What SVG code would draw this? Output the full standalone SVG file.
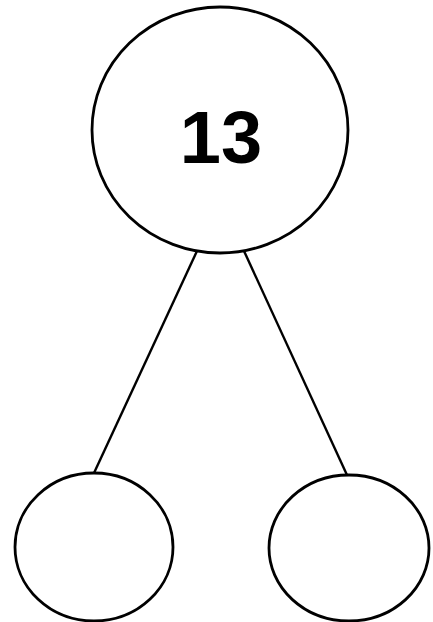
<svg xmlns="http://www.w3.org/2000/svg" width="433" height="622" viewBox="0 0 433 622">
<style>
.n{fill:#fff;stroke:#000;stroke-width:2.8}
.c{stroke:#000;stroke-width:2.4;fill:none}
.t{font-family:"Liberation Sans",Arial,sans-serif;font-weight:bold;font-size:74px;fill:#000}
</style>
<rect width="433" height="622" fill="#fff"/>
<g id="connectors">
<line class="c" x1="197" y1="251" x2="94" y2="473"/>
<line class="c" x1="244" y1="251" x2="347" y2="475"/>
</g>
<g id="node-13">
<ellipse class="n" cx="220" cy="130" rx="128" ry="123"/>
<text class="t" x="221" y="163" text-anchor="middle">13</text>
</g>
<g id="node-left">
<ellipse class="n" cx="94" cy="547" rx="79" ry="74"/>
</g>
<g id="node-right">
<ellipse class="n" cx="349" cy="548" rx="80" ry="73"/>
</g>
</svg>
